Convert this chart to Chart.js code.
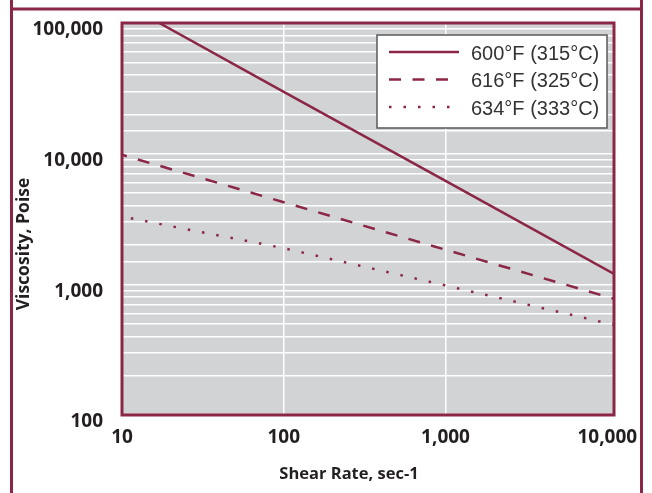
<!DOCTYPE html>
<html>
<head>
<meta charset="utf-8">
<script src="https://cdn.jsdelivr.net/npm/chart.js@4.4.1/dist/chart.umd.min.js"></script>
<style>
  html, body { margin: 0; padding: 0; background: #fff; }
  #wrap { width: 652px; height: 493px; }
</style>
</head>
<body>
<div id="wrap"><canvas id="viscChart" width="652" height="493"></canvas></div>
<script>
// shear rate (sec-1) and viscosity (poise) for each melt temperature
const seriesLabels = ['600°F (315°C)', '616°F (325°C)', '634°F (333°C)'];
const rate600 = [17, 100, 1000, 11000];
const visc600 = [100000, 29700, 6200, 1200];
const rate616 = [10, 100, 1000, 11000];
const visc616 = [9800, 4250, 1840, 775];
const rate634 = [10, 100, 1000, 11000];
const visc634 = [3300, 1890, 980, 490];

const xTicks = [10, 100, 1000, 10000];
const xGridAt = [100, 1000];

const maroon = '#8c2646';
const ink = '#231f20';

function toPoints(xs, ys) {
    return xs.map((x, i) => ({ x: x, y: ys[i] }));
}

function isDecade(v) {
    const l = Math.log10(v);
    return Math.abs(l - Math.round(l)) < 1e-9;
}

// page frame, grey plot background, plot border, axis titles and legend box
const decorations = {
    id: 'decorations',
    beforeDraw(chart) {
        const ctx = chart.ctx;
        const a = chart.chartArea;
        ctx.save();
        ctx.fillStyle = '#ffffff';
        ctx.fillRect(0, 0, chart.width, chart.height);
        ctx.strokeStyle = maroon;
        ctx.lineWidth = 3;
        ctx.beginPath();
        ctx.moveTo(11.5, 0); ctx.lineTo(11.5, chart.height);
        ctx.moveTo(641.5, 0); ctx.lineTo(641.5, chart.height);
        ctx.moveTo(11.5, 9); ctx.lineTo(641.5, 9);
        ctx.stroke();
        ctx.fillStyle = '#d1d3d4';
        ctx.fillRect(a.left, a.top, a.right - a.left, a.bottom - a.top);
        ctx.restore();
    },
    afterDatasetsDraw(chart) {
        const ctx = chart.ctx;
        const a = chart.chartArea;
        ctx.save();
        ctx.strokeStyle = maroon;
        ctx.lineWidth = 3;
        ctx.strokeRect(a.left, a.top, a.right - a.left, a.bottom - a.top);
        ctx.restore();
    },
    afterDraw(chart) {
        const ctx = chart.ctx;
        const a = chart.chartArea;
        ctx.save();

        // axis titles
        ctx.fillStyle = ink;
        ctx.font = 'bold 16.5px "Open Sans"';
        ctx.textAlign = 'center';
        ctx.textBaseline = 'middle';
        ctx.fillText('Shear Rate, sec-1', 349, 474);
        ctx.translate(24, 244);
        ctx.rotate(-Math.PI / 2);
        ctx.font = 'bold 17.5px "Open Sans"';
        ctx.fillText('Viscosity, Poise', 0, 0);
        ctx.setTransform(1, 0, 0, 1, 0, 0);

        // legend
        const bx = a.right - 237, by = a.top + 12, bw = 230, bh = 93;
        ctx.fillStyle = '#ffffff';
        ctx.fillRect(bx, by, bw, bh);
        ctx.strokeStyle = '#58595b';
        ctx.lineWidth = 1.5;
        ctx.strokeRect(bx, by, bw, bh);

        chart.data.datasets.forEach((ds, i) => {
            const rowY = by + 17 + i * 27.5;
            ctx.strokeStyle = ds.borderColor;
            ctx.lineWidth = ds.borderWidth;
            ctx.setLineDash(ds.borderDash || []);
            ctx.lineDashOffset = 0;
            ctx.beginPath();
            ctx.moveTo(bx + 12, rowY);
            ctx.lineTo(bx + 82, rowY);
            ctx.stroke();
            ctx.setLineDash([]);
            ctx.fillStyle = '#333333';
            ctx.font = '20px "Liberation Sans"';
            ctx.textAlign = 'left';
            ctx.textBaseline = 'middle';
            ctx.fillText(ds.label, bx + 94, rowY + 2);
        });
        ctx.restore();
    }
};

const tickFont = { family: '"Open Sans"', size: 19, weight: 'bold' };

new Chart(document.getElementById('viscChart').getContext('2d'), {
    type: 'line',
    data: {
        datasets: [
            {
                label: seriesLabels[0],
                data: toPoints(rate600, visc600),
                borderColor: maroon,
                borderWidth: 2.5,
                pointRadius: 0
            },
            {
                label: seriesLabels[1],
                data: toPoints(rate616, visc616),
                borderColor: maroon,
                borderWidth: 2.5,
                borderDash: [12, 11.5],
                borderDashOffset: 7,
                pointRadius: 0
            },
            {
                label: seriesLabels[2],
                data: toPoints(rate634, visc634),
                borderColor: maroon,
                borderWidth: 2.5,
                borderDash: [2.5, 12],
                borderDashOffset: 5.5,
                pointRadius: 0
            }
        ]
    },
    options: {
        responsive: false,
        animation: false,
        events: [],
        layout: { padding: { left: 0, top: 23, right: 38, bottom: 0 } },
        plugins: {
            legend: { display: false },
            tooltip: { enabled: false }
        },
        scales: {
            x: {
                type: 'logarithmic',
                min: 10,
                max: 11000,
                afterBuildTicks: (scale) => {
                    scale.ticks = xTicks.map((v) => ({ value: v }));
                },
                afterFit: (scale) => { scale.height = 78; },
                ticks: {
                    autoSkip: false,
                    maxRotation: 0,
                    padding: 11,
                    color: ink,
                    font: tickFont,
                    callback: (v) => Number(v).toLocaleString('en-US')
                },
                grid: {
                    drawTicks: false,
                    lineWidth: 1.5,
                    color: (c) => (c.tick && xGridAt.includes(c.tick.value)) ? '#ffffff' : 'rgba(0,0,0,0)'
                },
                border: { display: false }
            },
            y: {
                type: 'logarithmic',
                min: 100,
                max: 100000,
                afterFit: (scale) => {
                    // keep the plot box where the layout padding puts it
                    scale.width = 122;
                    scale.paddingTop = 0;
                    scale.paddingBottom = 0;
                },
                ticks: {
                    autoSkip: false,
                    padding: 19,
                    labelOffset: 7,
                    color: ink,
                    font: tickFont,
                    callback: (v) => isDecade(v) ? Number(v).toLocaleString('en-US') : ''
                },
                grid: {
                    drawTicks: false,
                    lineWidth: 1.5,
                    color: '#ffffff'
                },
                border: { display: false }
            }
        }
    },
    plugins: [decorations]
});
</script>
</body>
</html>
